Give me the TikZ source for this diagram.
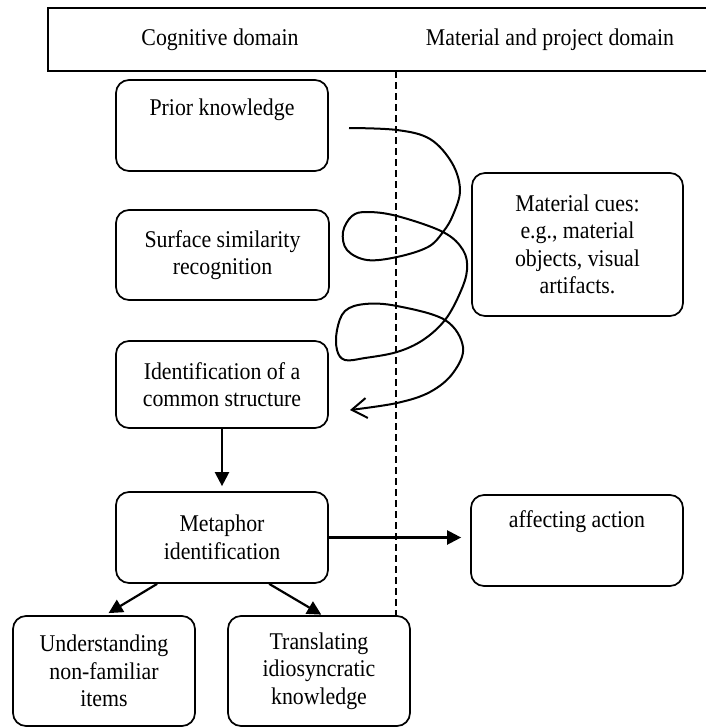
\documentclass[tikz,border=0pt]{standalone}
\usepackage{fontspec}
\setmainfont{Liberation Serif}[FakeStretch=0.91]
\usetikzlibrary{arrows.meta}
\begin{document}
\begin{tikzpicture}[x=1pt,y=-1pt,
  txt/.style={font=\fontsize{24}{27.5}\selectfont, inner sep=0pt},
  box/.style={txt, draw, line width=1.7pt, rounded corners=13pt, align=center},
  arr/.style={line width=2.2pt, -{Triangle[length=14pt,width=14pt]}},
  divider/.style={line width=1.3pt, dash pattern=on 7pt off 4pt},
  spiral/.style={line width=2pt, -{Straight Barb[length=15pt,width=20pt,line width=2pt]}}
]
\useasboundingbox (0,0) rectangle (706,728);

% header
\draw[line width=1.7pt] (706,8) -- (48,8) -- (48,71) -- (706,71);
\node[txt] (cog) at (220,40) {Cognitive domain};
\node[txt] (mat) at (550,40) {Material and project domain};

% divider
\draw[divider] (396,71) -- (396,616);

% boxes
\node[box, minimum width=212pt, minimum height=91pt] (prior) at (222,125.5) {Prior knowledge\\ \strut};
\node[box, minimum width=213pt, minimum height=90pt] (surf) at (222.5,255) {Surface similarity\\recognition};
\node[box, minimum width=212pt, minimum height=87pt] (ident) at (222,384.5) {Identification of a\\common structure};
\node[box, minimum width=212pt, minimum height=91pt] (meta) at (222,537.5) {Metaphor\\identification};
\node[box, minimum width=211pt, minimum height=143pt] (cues) at (577.5,244.5) {Material cues:\\e.g., material\\objects, visual\\artifacts.};
\node[box, minimum width=212pt, minimum height=91pt] (act) at (577,540.5) {affecting action\\[7pt] \strut};
\node[box, minimum width=182pt, minimum height=110pt] (und) at (104,671) {Understanding\\non-familiar\\items};
\node[box, minimum width=182pt, minimum height=110pt] (tra) at (319,671) {Translating\\idiosyncratic\\knowledge};

% connectors
\draw[arr, shorten >=5pt] (ident.south) -- (meta.north);
\draw[arr] (meta.east) -- (meta.east -| act.west) [shorten >=9pt];
\draw[arr, shorten >=4pt] ([xshift=42pt]meta.south west) -- ([xshift=93pt]und.north west);
\draw[arr, shorten >=1pt] ([xshift=154pt]meta.south west) -- ([xshift=95pt]tra.north west);

% spiral
\coordinate (sp0) at (349,128);
\coordinate (sp1) at (350,410);
\draw[spiral] plot[smooth, tension=0.6] coordinates {
  (sp0) (397,130) (430,139) (452,163) (460,190) (453,215) (443,232) (428,247)
  (397,257) (367,260) (347,250) (343,232) (352,216) (367,212) (397,216)
  (443,232) (463,250) (467,270) (460,293) (445,320) (423,340) (397,352)
  (365,358) (345,360) (337,350) (337,330) (345,311) (365,304) (397,306)
  (445,320) (463,347) (453,373) (430,392) (397,403) (sp1)};
\end{tikzpicture}
\end{document}
